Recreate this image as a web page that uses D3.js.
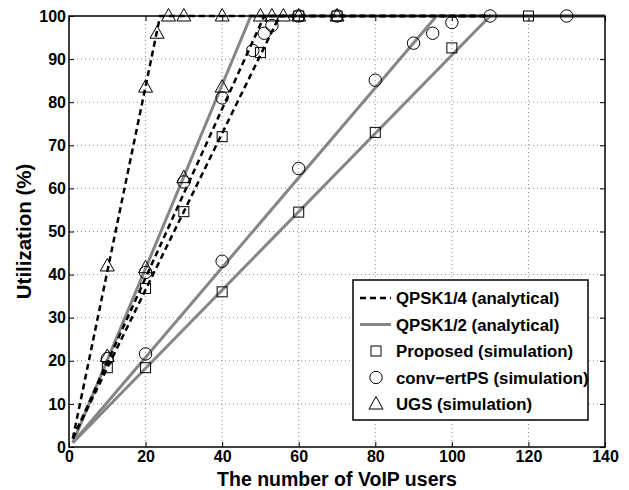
<!DOCTYPE html>
<html><head><meta charset="utf-8">
<script src="https://cdn.jsdelivr.net/npm/d3@7"></script>
<style>body{margin:0;background:#fff;} svg{display:block;}</style>
</head><body>
<svg id="chart" width="629" height="490"></svg>
<script>
// ---- data ----
const xTicks = [0, 20, 40, 60, 80, 100, 120, 140];
const yTicks = [0, 10, 20, 30, 40, 50, 60, 70, 80, 90, 100];

// analytical curves (QPSK1/4 dashed black, QPSK1/2 solid gray)
const q14UgsX = [1, 23.8, 110];   const q14UgsY = [2, 100, 100];
const q14ConvX = [1, 51, 110];    const q14ConvY = [2, 100, 100];
const q14PropX = [1, 55, 110];    const q14PropY = [2, 100, 100];
const q12UgsX = [1, 47.5, 140];   const q12UgsY = [1, 100, 100];
const q12ConvX = [1, 96, 140];    const q12ConvY = [1, 100, 100];
const q12PropX = [1, 110, 140];   const q12PropY = [1, 100, 100];

// simulation: Proposed (squares)
const propX = [10, 20, 30, 40, 50, 60, 70, 20, 40, 60, 80, 100, 120];
const propY = [18.4, 36.8, 54.6, 72, 91.5, 100, 100, 18.4, 36, 54.5, 73, 92.6, 100];
// simulation: conv-ertPS (circles)
const convX = [10, 20, 30, 40, 48, 51, 53, 60, 70, 20, 40, 60, 80, 90, 95, 100, 110, 130];
const convY = [20.5, 40.5, 61.5, 81, 92, 96, 97.8, 100, 100, 21.6, 43.1, 64.6, 85.1, 93.7, 96, 98.5, 100, 100];
// simulation: UGS (triangles)
const ugsX = [10, 20, 23, 26, 30, 40, 10, 20, 30, 40, 50, 53, 56, 60, 70];
const ugsY = [42, 83.5, 96, 100, 100, 100, 21, 41.6, 62.5, 83.5, 100, 100, 100, 100, 100];

const legendLabels = ["QPSK1/4 (analytical)", "QPSK1/2 (analytical)", "Proposed (simulation)", "conv\u2212ertPS (simulation)", "UGS (simulation)"];

// ---- drawing ----
const svg = d3.select("#chart");
const L = 69, R = 605, T = 16, B = 447;
const x = d3.scaleLinear().domain([0, 140]).range([L, R]);
const y = d3.scaleLinear().domain([0, 100]).range([B, T]);
const FONT = "'Liberation Sans', Arial, Helvetica, sans-serif";
const GRAY = "#868686";

// grid
const grid = svg.append("g");
xTicks.slice(1, -1).forEach(t => grid.append("line")
  .attr("x1", x(t)).attr("x2", x(t)).attr("y1", T).attr("y2", B)
  .attr("stroke", "#8a8a8a").attr("stroke-width", 1).attr("stroke-dasharray", "1,3"));
yTicks.slice(1, -1).forEach(t => grid.append("line")
  .attr("x1", L).attr("x2", R).attr("y1", y(t)).attr("y2", y(t))
  .attr("stroke", "#8a8a8a").attr("stroke-width", 1).attr("stroke-dasharray", "1,3"));

// axes
const xAxisB = d3.axisBottom(x).tickValues(xTicks).tickSizeInner(-5).tickSizeOuter(0).tickPadding(4);
const xAxisT = d3.axisTop(x).tickValues(xTicks).tickSizeInner(-5).tickSizeOuter(0).tickFormat("");
const yAxisL = d3.axisLeft(y).tickValues(yTicks).tickSizeInner(-5).tickSizeOuter(0).tickPadding(3);
const yAxisR = d3.axisRight(y).tickValues(yTicks).tickSizeInner(-5).tickSizeOuter(0).tickFormat("");

function styleAxis(g) {
  g.select(".domain").remove();
  g.selectAll(".tick line").attr("stroke", "#000").attr("stroke-width", 1);
  g.selectAll("text").attr("font-family", FONT).attr("font-weight", "bold").attr("font-size", 16).attr("fill", "#000");
}
svg.append("g").attr("transform", `translate(0,${B})`).call(xAxisB).call(styleAxis);
svg.append("g").attr("transform", `translate(0,${T})`).call(xAxisT).call(styleAxis);
svg.append("g").attr("transform", `translate(${L},0)`).call(yAxisL).call(styleAxis);
svg.append("g").attr("transform", `translate(${R},0)`).call(yAxisR).call(styleAxis);

// analytical lines
const line = d3.line().x(d => x(d[0])).y(d => y(d[1]));
const zip = (a, b) => a.map((v, i) => [v, b[i]]);
[[q12UgsX, q12UgsY], [q12ConvX, q12ConvY], [q12PropX, q12PropY]].forEach(([a, b]) =>
  svg.append("path").attr("d", line(zip(a, b))).attr("fill", "none")
    .attr("stroke", GRAY).attr("stroke-width", 3));
[[q14UgsX, q14UgsY], [q14ConvX, q14ConvY], [q14PropX, q14PropY]].forEach(([a, b]) =>
  svg.append("path").attr("d", line(zip(a, b))).attr("fill", "none")
    .attr("stroke", "#000").attr("stroke-width", 2.5).attr("stroke-dasharray", "6,4"));

// frame
svg.append("rect").attr("x", L).attr("y", T).attr("width", R - L).attr("height", B - T)
  .attr("fill", "none").attr("stroke", "#000").attr("stroke-width", 1.5);

// markers
const tri = (cx, cy) => `M${cx},${cy - 7.5}L${cx + 7},${cy + 5}L${cx - 7},${cy + 5}Z`;
const mk = svg.append("g").attr("fill", "none").attr("stroke", "#000").attr("stroke-width", 1);
zip(propX, propY).forEach(d => mk.append("rect")
  .attr("x", x(d[0]) - 5).attr("y", y(d[1]) - 5).attr("width", 10).attr("height", 10));
zip(convX, convY).forEach(d => mk.append("circle")
  .attr("cx", x(d[0])).attr("cy", y(d[1])).attr("r", 6.2));
zip(ugsX, ugsY).forEach(d => mk.append("path").attr("d", tri(x(d[0]), y(d[1]))));

// axis titles
svg.append("text").attr("x", (L + R) / 2).attr("y", 486).attr("text-anchor", "middle")
  .attr("font-family", FONT).attr("font-weight", "bold").attr("font-size", 19.5).text("The number of VoIP users");
svg.append("text").attr("transform", `translate(31,${(T + B) / 2}) rotate(-90)`).attr("text-anchor", "middle")
  .attr("font-family", FONT).attr("font-weight", "bold").attr("font-size", 20.5).text("Utilization (%)");

// legend
const lg = svg.append("g");
lg.append("rect").attr("x", 353).attr("y", 280).attr("width", 235).attr("height", 140)
  .attr("fill", "#fff").attr("stroke", "#000").attr("stroke-width", 1.5);
const rowY = i => 298 + i * 26.5;
legendLabels.forEach((t, i) => {
  lg.append("text").attr("x", 396).attr("y", rowY(i)).attr("dy", "0.36em")
    .attr("font-family", FONT).attr("font-weight", "bold").attr("font-size", 16.8).text(t);
});
lg.append("line").attr("x1", 360).attr("x2", 391).attr("y1", rowY(0)).attr("y2", rowY(0))
  .attr("stroke", "#000").attr("stroke-width", 2.5).attr("stroke-dasharray", "6,4");
lg.append("line").attr("x1", 360).attr("x2", 391).attr("y1", rowY(1)).attr("y2", rowY(1))
  .attr("stroke", GRAY).attr("stroke-width", 3);
lg.append("rect").attr("x", 371).attr("y", rowY(2) - 5).attr("width", 10).attr("height", 10)
  .attr("fill", "none").attr("stroke", "#000");
lg.append("circle").attr("cx", 376).attr("cy", rowY(3)).attr("r", 6.2).attr("fill", "none").attr("stroke", "#000");
lg.append("path").attr("d", tri(376, rowY(4))).attr("fill", "none").attr("stroke", "#000");
</script>
</body></html>
